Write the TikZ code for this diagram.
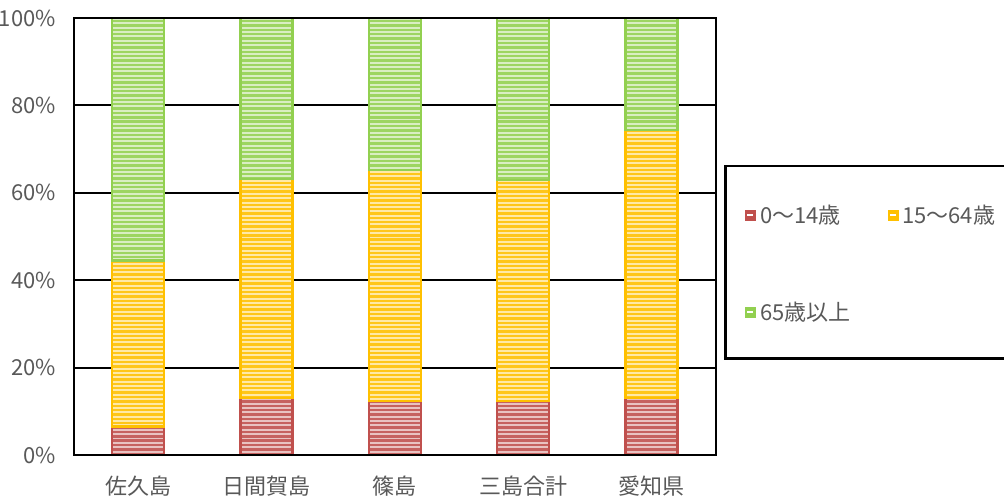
\documentclass[tikz,border=0pt]{standalone}
\usepackage{fontspec}
\setmainfont{Noto Sans CJK JP}
\definecolor{cred}{HTML}{C0504D}
\definecolor{corange}{HTML}{FFC000}
\definecolor{cgreen}{HTML}{92D050}
\definecolor{ctext}{HTML}{595959}
\newcommand\barseg[4]{%
  \begin{scope}
    \clip (#1,{455-4.37*#2}) rectangle ({#1+52},{455-4.37*#3});
    \fill[#4!35] (#1,{455-4.37*#2}) rectangle ({#1+52},{455-4.37*#3});
    \foreach \k in {0,...,101} \draw[#4!90, line width=2.4pt] (#1,{16.8+4.37*\k}) -- ++(52,0);
  \end{scope}
  \draw[#4, line width=2.4pt] (#1,{455-4.37*#2}) rectangle ({#1+52},{455-4.37*#3});
}
\newcommand\legmark[3]{%
  \fill[#3] (#1,#2) rectangle ++(11,11);
  \fill[white] ({#1+2.5},{#2+4.5}) rectangle ++(6,2);
}
\tikzset{
  lbl/.style={text=ctext, font=\fontsize{22}{26}\selectfont, inner sep=0pt},
  grid/.style={black, line width=2pt}
}
\begin{document}
\begin{tikzpicture}[x=1pt,y=-1pt]
\useasboundingbox (0,0) rectangle (1004,499);
% grid
\foreach \p in {20,40,60,80} \draw[grid] (74,{455-4.37*\p}) -- (716,{455-4.37*\p});
% tick labels
\foreach \p/\nm in {0/t0,20/t20,40/t40,60/t60,80/t80,100/t100}
  \node[lbl, anchor=east] (\nm) at (56,{455-4.37*\p}) {\p\%};
% bars: left x, red top, orange top
\foreach \x/\a/\b in {112/6.5/44.5, 240.4/13.0/63.2, 368.8/12.4/65.2, 497.2/12.4/62.9, 625.6/13.0/74.4} {
  \barseg{\x}{0}{\a}{cred}
  \barseg{\x}{\a}{\b}{corange}
  \barseg{\x}{\b}{100}{cgreen}
}
% frame
\draw[grid] (74,18) rectangle (716,455);
% category labels
\node[lbl] (c1) at (138,486) {佐久島};
\node[lbl] (c2) at (266.4,486) {日間賀島};
\node[lbl] (c3) at (394.8,486) {篠島};
\node[lbl] (c4) at (523.2,486) {三島合計};
\node[lbl] (c5) at (651.6,486) {愛知県};
% legend
\draw[black, line width=2.2pt] (1006,166) -| (725.5,358.5) -- (1006,358.5);
\legmark{744.5}{209.5}{cred}
\legmark{887.5}{209.5}{corange}
\legmark{744.5}{306.5}{cgreen}
\node[lbl, anchor=west] (l1) at (760,215) {0～14歳};
\node[lbl, anchor=west] (l2) at (902,215) {15～64歳};
\node[lbl, anchor=west] (l3) at (760,312) {65歳以上};
\end{tikzpicture}
\end{document}
